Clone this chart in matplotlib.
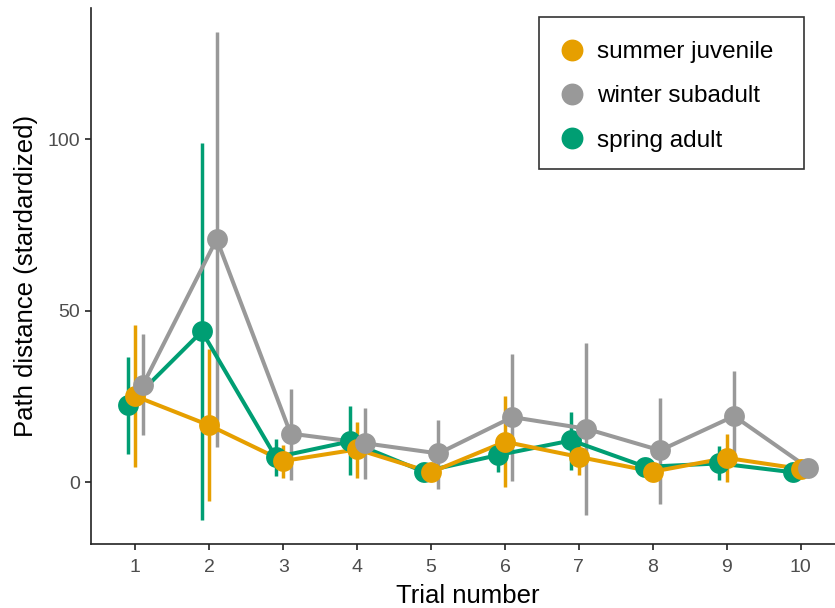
import matplotlib.pyplot as plt
from matplotlib.patches import Rectangle
import numpy as np

plt.rcParams['font.family'] = ['Liberation Sans', 'DejaVu Sans']

trials = np.arange(1, 11)

# group means and error bar limits (lower, upper)
spring_mean = [22.5, 44.0, 7.3, 11.9, 3.1, 7.9, 12.2, 4.5, 5.5, 2.9]
spring_low = [8.3, -10.9, 1.8, 2.0, 1.0, 3.1, 3.6, 2.5, 0.7, 1.8]
spring_high = [36.4, 98.9, 12.7, 22.2, 5.2, 12.8, 20.4, 6.5, 10.5, 4.0]

summer_mean = [25.1, 16.6, 6.2, 9.6, 2.9, 11.8, 7.4, 3.1, 7.1, 3.9]
summer_low = [4.4, -5.6, 1.3, 1.2, 1.0, -1.4, 2.1, 1.2, 0.0, 2.5]
summer_high = [45.9, 38.9, 10.8, 17.7, 4.8, 25.1, 12.5, 5.0, 14.2, 5.3]

winter_mean = [28.3, 70.9, 14.2, 11.4, 8.4, 19.0, 15.6, 9.3, 19.3, 4.2]
winter_low = [13.7, 10.4, 0.6, 1.0, -1.9, 0.4, -9.6, -6.3, 6.0, 3.0]
winter_high = [43.3, 131.2, 27.2, 21.6, 18.3, 37.5, 40.7, 24.7, 32.5, 5.4]

groups = [
    ('spring adult', spring_mean, spring_low, spring_high, '#009E73', -0.1),
    ('summer juvenile', summer_mean, summer_low, summer_high, '#E69F00', 0.0),
    ('winter subadult', winter_mean, winter_low, winter_high, '#999999', 0.1),
]

W, H = 835, 608
fig = plt.figure(figsize=(W / 100, H / 100), dpi=100)
ax = fig.add_axes([91 / W, 1 - 544 / H, 754 / W, 536 / H])

handles = {}
for name, m, lo, hi, col, dx in groups:
    x = trials + dx
    ax.vlines(x, lo, hi, color=col, lw=2.5, zorder=1)
for name, m, lo, hi, col, dx in groups:
    x = trials + dx
    ax.plot(x, m, color=col, lw=2.9, zorder=2, solid_capstyle='butt')
for name, m, lo, hi, col, dx in groups:
    x = trials + dx
    h, = ax.plot(x, m, 'o', color=col, ms=15, mec='none', zorder=3)
    handles[name] = h

ax.set_xlim(0.4, 10.6)
ax.set_ylim(-18, 138.3)
ax.set_xticks(trials)
ax.set_yticks([0, 50, 100])
ax.tick_params(labelsize=14, labelcolor='#4D4D4D', color='#222222',
               length=4.5, width=1.2, pad=3.5)
ax.tick_params(axis='x', pad=6)
ax.spines['top'].set_visible(False)
ax.spines['right'].set_visible(False)
for s in ('left', 'bottom'):
    ax.spines[s].set_linewidth(1.2)
    ax.spines[s].set_color('#222222')

ax.set_xlabel('Trial number', fontsize=18.5, labelpad=6)
ax.set_ylabel('Path distance (stardardized)', fontsize=18.5, labelpad=7)

# legend box
fig.patches.append(Rectangle((539 / W, 1 - 169 / H), 265 / W, 152 / H,
                             transform=fig.transFigure, facecolor='white',
                             edgecolor='#333333', lw=1.2, zorder=5))
order = ['summer juvenile', 'winter subadult', 'spring adult']
leg = fig.legend([handles[k] for k in order], order, loc='upper left',
                 bbox_to_anchor=(559.5 / W, 1 - 41 / H),
                 fontsize=17.5, frameon=False,
                 handlelength=1.0, handletextpad=0.55, labelspacing=0.92,
                 borderpad=0, borderaxespad=0, markerscale=1.05)
leg.set_zorder(6)

fig.savefig('out.png', dpi=100)
